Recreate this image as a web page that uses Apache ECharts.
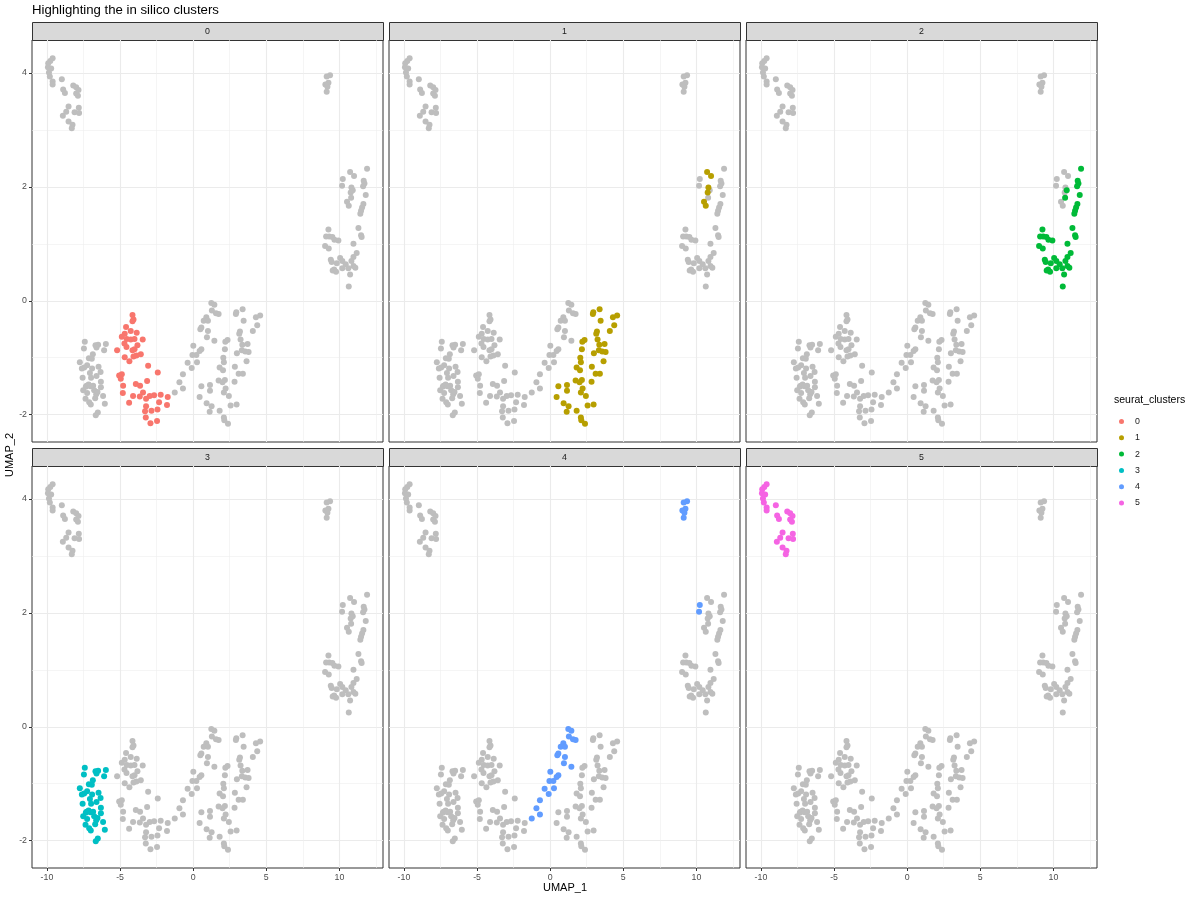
<!DOCTYPE html>
<html>
<head>
<meta charset="utf-8">
<title>Highlighting the in silico clusters</title>
<script src="https://cdn.jsdelivr.net/npm/echarts@6/dist/echarts.min.js"></script>
<style>
  html, body { margin: 0; padding: 0; background: #fff; }
  #chart { width: 1200px; height: 900px; }
</style>
</head>
<body>
<div id="chart"></div>
<script>
// UMAP_1 / UMAP_2 coordinates, one list per seurat cluster
const cluster0 = [
  [-4.15, -0.25], [-4.08, -0.33], [-4.15, -0.36], [-4.59, -0.46], [-4.27, -0.53], [-3.86, -0.56],
  [-4.68, -0.58], [-4.88, -0.63], [-4.54, -0.67], [-4.27, -0.68], [-4.01, -0.67], [-3.45, -0.68],
  [-3.81, -0.78], [-4.70, -0.75], [-4.56, -0.81], [-4.01, -0.85], [-5.20, -0.87], [-4.15, -0.87],
  [-3.58, -0.94], [-3.88, -0.96], [-4.08, -0.98], [-4.68, -0.99], [-4.36, -1.06], [-3.08, -1.14],
  [-2.42, -1.26], [-5.06, -1.31], [-4.88, -1.29], [-4.95, -1.37], [-4.79, -1.49], [-3.92, -1.46],
  [-3.63, -1.49], [-3.15, -1.41], [-3.43, -1.61], [-4.81, -1.62], [-4.11, -1.67], [-3.65, -1.68],
  [-2.97, -1.67], [-2.67, -1.66], [-2.22, -1.65], [-1.74, -1.69], [-3.22, -1.72], [-4.38, -1.79],
  [-2.33, -1.78], [-1.79, -1.83], [-3.22, -1.85], [-2.85, -1.93], [-3.29, -1.94], [-2.44, -1.91],
  [-3.24, -2.05], [-2.47, -2.11], [-2.92, -2.15]
];
const cluster1 = [
  [3.38, -0.15], [2.95, -0.20], [2.92, -0.23], [4.29, -0.29], [4.58, -0.26], [3.45, -0.35],
  [4.38, -0.43], [4.08, -0.53], [3.20, -0.54], [3.15, -0.58], [3.24, -0.68], [2.35, -0.69],
  [2.20, -0.72], [3.36, -0.77], [3.72, -0.76], [2.17, -0.85], [3.33, -0.87], [3.56, -0.89],
  [3.79, -0.90], [2.99, -0.92], [2.06, -1.00], [3.65, -1.06], [2.10, -1.08], [2.85, -1.16],
  [1.81, -1.17], [2.04, -1.22], [3.11, -1.28], [3.40, -1.28], [1.74, -1.40], [2.17, -1.39],
  [2.01, -1.43], [2.83, -1.42], [1.15, -1.48], [0.56, -1.50], [2.22, -1.54], [1.15, -1.58],
  [2.10, -1.61], [2.44, -1.67], [0.44, -1.69], [0.92, -1.80], [1.26, -1.85], [2.56, -1.84],
  [2.97, -1.82], [1.81, -1.93], [1.13, -1.95], [2.10, -2.05], [2.13, -2.10], [2.38, -2.16],
  [10.73, 2.26], [11.00, 2.19], [10.82, 1.99], [10.77, 1.90], [10.52, 1.74], [10.64, 1.67]
];
const cluster2 = [
  [11.89, 2.32], [11.66, 2.11], [11.71, 2.06], [11.62, 2.01], [10.91, 1.94], [11.80, 1.86],
  [10.80, 1.81], [11.64, 1.70], [11.55, 1.64], [11.48, 1.58], [11.43, 1.53], [11.30, 1.28],
  [9.25, 1.25], [11.48, 1.15], [11.52, 1.12], [9.09, 1.13], [9.30, 1.13], [9.52, 1.12],
  [9.66, 1.07], [9.93, 1.06], [10.96, 1.00], [9.02, 0.96], [9.27, 0.92], [11.18, 0.84],
  [10.96, 0.77], [9.41, 0.72], [10.05, 0.75], [10.20, 0.70], [10.82, 0.70], [9.47, 0.68],
  [9.82, 0.66], [10.43, 0.64], [9.64, 0.55], [9.54, 0.53], [9.77, 0.51], [10.20, 0.57],
  [10.61, 0.57], [10.96, 0.61], [11.09, 0.58], [10.73, 0.46], [10.64, 0.25]
];
const cluster3 = [
  [-7.41, -0.72], [-7.47, -0.84], [-6.68, -0.78], [-6.50, -0.77], [-6.61, -0.82], [-5.97, -0.76],
  [-6.09, -0.87], [-6.86, -0.94], [-7.13, -1.01], [-6.93, -1.02], [-7.75, -1.08], [-7.25, -1.13],
  [-7.45, -1.17], [-7.61, -1.19], [-6.91, -1.19], [-6.47, -1.16], [-7.06, -1.27], [-6.33, -1.25],
  [-7.56, -1.35], [-6.98, -1.35], [-6.61, -1.32], [-6.31, -1.42], [-7.29, -1.49], [-7.34, -1.51],
  [-7.15, -1.47], [-7.02, -1.50], [-6.84, -1.49], [-7.52, -1.57], [-6.77, -1.57], [-6.31, -1.52],
  [-7.25, -1.62], [-6.63, -1.64], [-6.54, -1.60], [-6.16, -1.67], [-7.36, -1.72], [-7.11, -1.78],
  [-6.70, -1.71], [-6.04, -1.81], [-7.00, -1.82], [-6.52, -1.96], [-6.66, -2.01]
];
const cluster4 = [
  [1.24, -0.04], [1.45, -0.07], [1.28, -0.17], [1.56, -0.22], [1.74, -0.23], [0.90, -0.29],
  [0.72, -0.35], [1.01, -0.35], [0.56, -0.47], [0.49, -0.50], [1.01, -0.53], [0.94, -0.64],
  [1.45, -0.70], [0.01, -0.79], [0.56, -0.85], [0.44, -0.88], [-0.05, -0.95], [0.22, -0.95],
  [0.26, -1.08], [-0.38, -1.09], [-0.10, -1.18], [-0.70, -1.29], [-0.94, -1.43], [-0.70, -1.54],
  [-1.26, -1.61],
  [9.36, 3.96], [9.13, 3.94], [9.25, 3.83], [9.04, 3.80], [9.18, 3.76], [9.13, 3.67],
  [10.23, 2.14], [10.18, 2.02]
];
const cluster5 = [
  [-9.61, 4.26], [-9.77, 4.21], [-9.91, 4.17], [-9.93, 4.10], [-9.71, 4.08], [-9.86, 4.01],
  [-9.80, 3.94], [-9.61, 3.85], [-9.61, 3.80], [-8.98, 3.89], [-8.20, 3.78], [-8.89, 3.71],
  [-8.77, 3.65], [-8.00, 3.75], [-7.84, 3.70], [-8.00, 3.64], [-7.88, 3.60], [-8.52, 3.41],
  [-7.82, 3.39], [-8.11, 3.31], [-8.68, 3.32], [-7.80, 3.30], [-8.91, 3.25], [-8.52, 3.15],
  [-8.25, 3.09], [-8.30, 3.03]
];

const clusters = [cluster0, cluster1, cluster2, cluster3, cluster4, cluster5];
const clusterNames = ['0', '1', '2', '3', '4', '5'];
const clusterColors = ['#F8766D', '#B79F00', '#00BA38', '#00BFC4', '#619CFF', '#F564E3'];

const xTicks = [-10, -5, 0, 5, 10];
const xMinor = [-7.5, -2.5, 2.5, 7.5, 12.5];
const yTicks = [-2, 0, 2, 4];
const yMinor = [-1, 1, 3];
const xLim = [-11.02, 12.98];
const yLim = [-2.48, 4.58];

const FONT = '"Liberation Sans", Arial, Helvetica, sans-serif';

// panel layout (ggplot facet_wrap, 2 rows x 3 cols)
const panelLeft = [32, 389, 746];
const panelTop = [40, 466];
const panelW = 351;
const panelH = 402;
const stripH = 18;

const chart = echarts.init(document.getElementById('chart'), null, { renderer: 'canvas' });

const grids = [], xAxes = [], yAxes = [], series = [], graphics = [];

clusters.forEach((pts, k) => {
  const col = k % 3, row = Math.floor(k / 3);
  const left = panelLeft[col], top = panelTop[row];
  grids.push({
    left: left, top: top, width: panelW, height: panelH,
    show: true, backgroundColor: '#fff', borderColor: '#333333', borderWidth: 1
  });

  const showX = row === 1, showY = col === 0;
  // major axis: ticks, labels, major grid
  xAxes.push({
    type: 'value', gridIndex: k, min: xLim[0], max: xLim[1], position: 'bottom',
    axisLine: { show: false, onZero: false },
    axisTick: { show: showX, customValues: xTicks, length: 3, lineStyle: { color: '#333333' } },
    axisLabel: { show: showX, customValues: xTicks, margin: 5, fontSize: 8.8, color: '#4D4D4D', fontFamily: FONT },
    splitLine: { show: true, lineStyle: { color: '#EBEBEB', width: 1.1 } }
  });
  // minor grid only
  xAxes.push({
    type: 'value', gridIndex: k, min: xLim[0], max: xLim[1], position: 'bottom',
    axisLine: { show: false, onZero: false },
    axisTick: { show: false, customValues: xMinor },
    axisLabel: { show: false, customValues: xMinor },
    splitLine: { show: true, lineStyle: { color: '#EFEFEF', width: 0.6 } }
  });
  yAxes.push({
    type: 'value', gridIndex: k, min: yLim[0], max: yLim[1], position: 'left',
    axisLine: { show: false, onZero: false },
    axisTick: { show: showY, customValues: yTicks, length: 3, lineStyle: { color: '#333333' } },
    axisLabel: { show: showY, customValues: yTicks, margin: 5, fontSize: 8.8, color: '#4D4D4D', fontFamily: FONT },
    splitLine: { show: true, lineStyle: { color: '#EBEBEB', width: 1.1 } }
  });
  yAxes.push({
    type: 'value', gridIndex: k, min: yLim[0], max: yLim[1], position: 'left',
    axisLine: { show: false, onZero: false },
    axisTick: { show: false, customValues: yMinor },
    axisLabel: { show: false, customValues: yMinor },
    splitLine: { show: true, lineStyle: { color: '#EFEFEF', width: 0.6 } }
  });

  const others = [];
  clusters.forEach((c, j) => { if (j !== k) others.push(...c); });

  series.push({
    name: 'other', type: 'scatter', xAxisIndex: 2 * k, yAxisIndex: 2 * k,
    data: others, symbolSize: 6, itemStyle: { color: '#BEBEBE', opacity: 1 }, silent: true
  });
  series.push({
    name: clusterNames[k], type: 'scatter', xAxisIndex: 2 * k, yAxisIndex: 2 * k,
    data: pts, symbolSize: 6, itemStyle: { color: clusterColors[k], opacity: 1 }, silent: true
  });

  // facet strip
  graphics.push({
    type: 'rect', shape: { x: left + 0.5, y: top - stripH + 0.5, width: panelW, height: stripH },
    style: { fill: '#D9D9D9', stroke: '#333333', lineWidth: 1 }
  });
  graphics.push({
    type: 'text', x: left + panelW / 2, y: top - stripH / 2 + 0.5,
    style: { text: clusterNames[k], align: 'center', verticalAlign: 'middle', fontSize: 8.8, fill: '#1A1A1A', fontFamily: FONT }
  });
});

graphics.push(
  { type: 'text', x: 32, y: 10,
    style: { text: 'Highlighting the in silico clusters', align: 'left', verticalAlign: 'middle', fontSize: 13.2, fill: '#000', fontFamily: FONT } },
  { type: 'text', x: 565, y: 888,
    style: { text: 'UMAP_1', align: 'center', verticalAlign: 'middle', fontSize: 11, fill: '#000', fontFamily: FONT } },
  { type: 'text', x: 10, y: 455, rotation: Math.PI / 2,
    style: { text: 'UMAP_2', align: 'center', verticalAlign: 'middle', fontSize: 11, fill: '#000', fontFamily: FONT } },
  { type: 'text', x: 1114, y: 400,
    style: { text: 'seurat_clusters', align: 'left', verticalAlign: 'middle', fontSize: 10.5, fill: '#000', fontFamily: FONT } }
);

chart.setOption({
  animation: false,
  backgroundColor: '#fff',
  grid: grids,
  xAxis: xAxes,
  yAxis: yAxes,
  legend: {
    data: clusterNames, orient: 'vertical', left: 1114, top: 412,
    icon: 'circle', itemWidth: 17, itemHeight: 5, itemGap: 7.3, selectedMode: false,
    textStyle: { fontSize: 8.8, color: '#1A1A1A', fontFamily: FONT }
  },
  graphic: graphics,
  series: series
});
</script>
</body>
</html>
